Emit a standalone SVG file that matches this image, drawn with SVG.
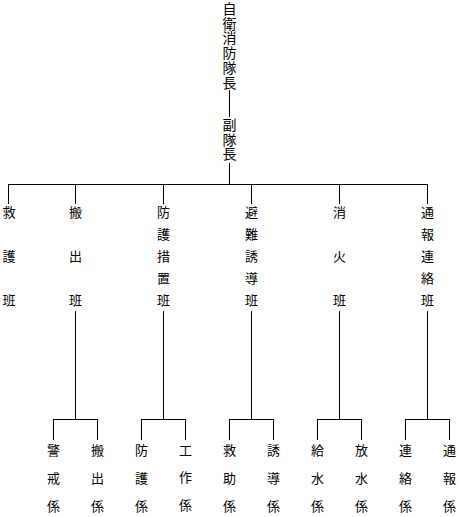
<svg xmlns="http://www.w3.org/2000/svg" width="458" height="517" viewBox="0 0 458 517">
<style>
text{font-family:"Noto Sans CJK JP","Noto Sans CJK SC",sans-serif;font-size:13px;fill:#000;text-anchor:middle}
.v{font-size:14px;writing-mode:vertical-rl;text-anchor:start}
#connectors line{stroke:#000;stroke-width:1;shape-rendering:crispEdges}
</style>
<rect width="458" height="517" fill="#fff"/>
<g id="connectors">
<line x1="229.5" y1="90" x2="229.5" y2="117"/>
<line x1="229.5" y1="163" x2="229.5" y2="184"/>
<line x1="8" y1="184.5" x2="428" y2="184.5"/>
<line x1="8.5" y1="184" x2="8.5" y2="204"/>
<line x1="75.5" y1="184" x2="75.5" y2="204"/>
<line x1="163.5" y1="184" x2="163.5" y2="204"/>
<line x1="251.5" y1="184" x2="251.5" y2="204"/>
<line x1="339.5" y1="184" x2="339.5" y2="204"/>
<line x1="427.5" y1="184" x2="427.5" y2="204"/>
<line x1="75.5" y1="311" x2="75.5" y2="419"/>
<line x1="163.5" y1="311" x2="163.5" y2="419"/>
<line x1="251.5" y1="311" x2="251.5" y2="419"/>
<line x1="339.5" y1="311" x2="339.5" y2="419"/>
<line x1="427.5" y1="311" x2="427.5" y2="419"/>
<line x1="53" y1="419.5" x2="98" y2="419.5"/>
<line x1="141" y1="419.5" x2="186" y2="419.5"/>
<line x1="229" y1="419.5" x2="274" y2="419.5"/>
<line x1="317" y1="419.5" x2="362" y2="419.5"/>
<line x1="405" y1="419.5" x2="450" y2="419.5"/>
<line x1="53.5" y1="419" x2="53.5" y2="440"/>
<line x1="97.5" y1="419" x2="97.5" y2="440"/>
<line x1="141.5" y1="419" x2="141.5" y2="440"/>
<line x1="185.5" y1="419" x2="185.5" y2="440"/>
<line x1="229.5" y1="419" x2="229.5" y2="440"/>
<line x1="273.5" y1="419" x2="273.5" y2="440"/>
<line x1="317.5" y1="419" x2="317.5" y2="440"/>
<line x1="361.5" y1="419" x2="361.5" y2="440"/>
<line x1="405.5" y1="419" x2="405.5" y2="440"/>
<line x1="449.5" y1="419" x2="449.5" y2="440"/>
</g>
<g id="chief"><text class="v" x="229.5" y="1.5" letter-spacing="0.8">自衛消防隊長</text></g>
<g id="vice"><text class="v" x="229.5" y="118" letter-spacing="0.3">副隊長</text></g>
<g id="kyugo"><text><tspan x="9" y="217">救</tspan><tspan x="9" y="261">護</tspan><tspan x="9" y="305">班</tspan></text></g>
<g id="hanshutsu"><text><tspan x="75.5" y="217">搬</tspan><tspan x="75.5" y="261">出</tspan><tspan x="75.5" y="305">班</tspan></text></g>
<g id="bogo"><text><tspan x="163.5" y="217">防</tspan><tspan x="163.5" y="239">護</tspan><tspan x="163.5" y="261">措</tspan><tspan x="163.5" y="283">置</tspan><tspan x="163.5" y="305">班</tspan></text></g>
<g id="hinan"><text><tspan x="251.5" y="217">避</tspan><tspan x="251.5" y="239">難</tspan><tspan x="251.5" y="261">誘</tspan><tspan x="251.5" y="283">導</tspan><tspan x="251.5" y="305">班</tspan></text></g>
<g id="shoka"><text><tspan x="339.5" y="217">消</tspan><tspan x="339.5" y="261">火</tspan><tspan x="339.5" y="305">班</tspan></text></g>
<g id="tsuho"><text><tspan x="427.5" y="217">通</tspan><tspan x="427.5" y="239">報</tspan><tspan x="427.5" y="261">連</tspan><tspan x="427.5" y="283">絡</tspan><tspan x="427.5" y="305">班</tspan></text></g>
<g id="keikai"><text><tspan x="53.5" y="455">警</tspan><tspan x="53.5" y="483">戒</tspan><tspan x="53.5" y="511">係</tspan></text></g>
<g id="hanshutsu-kakari"><text><tspan x="97.5" y="455">搬</tspan><tspan x="97.5" y="483">出</tspan><tspan x="97.5" y="511">係</tspan></text></g>
<g id="bogo-kakari"><text><tspan x="141.5" y="455">防</tspan><tspan x="141.5" y="483">護</tspan><tspan x="141.5" y="511">係</tspan></text></g>
<g id="kosaku"><text><tspan x="185.5" y="455">工</tspan><tspan x="185.5" y="482">作</tspan><tspan x="185.5" y="510">係</tspan></text></g>
<g id="kyujo"><text><tspan x="229.5" y="455">救</tspan><tspan x="229.5" y="483">助</tspan><tspan x="229.5" y="511">係</tspan></text></g>
<g id="yudo"><text><tspan x="273.5" y="455">誘</tspan><tspan x="273.5" y="483">導</tspan><tspan x="273.5" y="511">係</tspan></text></g>
<g id="kyusui"><text><tspan x="317.5" y="455">給</tspan><tspan x="317.5" y="483">水</tspan><tspan x="317.5" y="511">係</tspan></text></g>
<g id="hosui"><text><tspan x="361.5" y="455">放</tspan><tspan x="361.5" y="483">水</tspan><tspan x="361.5" y="511">係</tspan></text></g>
<g id="renraku"><text><tspan x="405.5" y="455">連</tspan><tspan x="405.5" y="483">絡</tspan><tspan x="405.5" y="511">係</tspan></text></g>
<g id="tsuho-kakari"><text><tspan x="449.5" y="455">通</tspan><tspan x="449.5" y="483">報</tspan><tspan x="449.5" y="511">係</tspan></text></g>
</svg>
